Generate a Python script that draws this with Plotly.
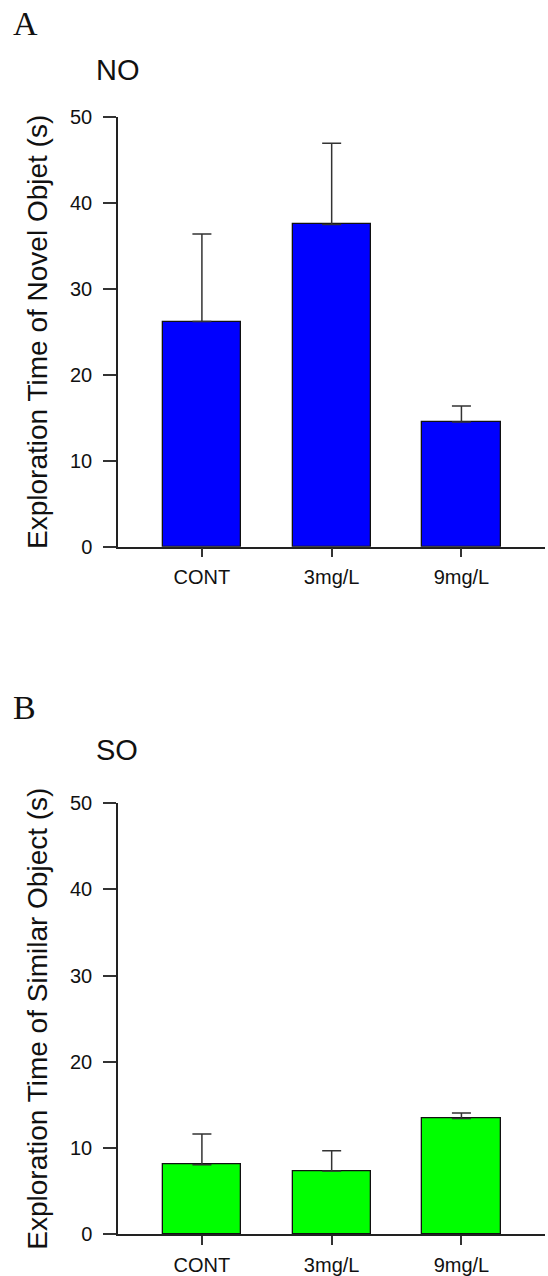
import plotly.graph_objects as go

categories = ["CONT", "3mg/L", "9mg/L"]
no_means = [26.2, 37.5, 14.5]
no_sem = [10.2, 9.45, 1.87]
so_means = [8.05, 7.3, 13.4]
so_sem = [3.55, 2.35, 0.65]
y_ticks = [0, 10, 20, 30, 40, 50]

W, H = 548, 1276
FONT = "Liberation Sans, Arial, sans-serif"
SERIF = "Liberation Serif, Times New Roman, serif"


def px_x(x):
    return x / W


def px_y(y):
    return 1 - y / H


fig = go.Figure()


def add_bars(means, sem, color, xa, ya):
    fig.add_trace(go.Bar(
        x=list(range(len(categories))), y=means,
        width=0.603,
        marker=dict(color=color, line=dict(color="#111111", width=1.3)),
        error_y=dict(type="data", symmetric=False, array=sem,
                     arrayminus=[0] * len(sem),
                     color="#333333", thickness=1.5, width=9.5),
        xaxis=xa, yaxis=ya, showlegend=False,
    ))


add_bars(no_means, no_sem, "#0000ff", "x", "y")
add_bars(so_means, so_sem, "#00ff00", "x2", "y2")

xdom = [px_x(118), px_x(545)]
ydomA = [px_y(546.7), px_y(117)]
ydomB = [px_y(1234), px_y(803.3)]

xaxis_common = dict(
    range=[-0.6466, 2.644], tickmode="array",
    tickvals=list(range(len(categories))), ticktext=categories,
    showline=True, linecolor="#222222", linewidth=1.5,
    ticks="outside", ticklen=9, tickwidth=1.5, tickcolor="#333333",
    tickfont=dict(family=FONT, size=20, color="#111111"),
    ticklabelstandoff=3, automargin=False,
    showgrid=False, zeroline=False, domain=xdom,
)
yaxis_common = dict(
    range=[0, 50], tickmode="array", tickvals=y_ticks,
    showline=True, linecolor="#222222", linewidth=1.5,
    ticks="outside", ticklen=13, tickwidth=1.5, tickcolor="#333333",
    tickfont=dict(family=FONT, size=20, color="#111111"),
    ticklabelstandoff=7, automargin=False,
    showgrid=False, zeroline=False,
)

fig.update_layout(
    width=W, height=H,
    margin=dict(l=0, r=0, t=0, b=0, autoexpand=False),
    paper_bgcolor="white", plot_bgcolor="white",
    bargap=0,
    xaxis=dict(**xaxis_common, anchor="y"),
    yaxis=dict(**yaxis_common, domain=ydomA, anchor="x",
               title=dict(text="Exploration Time of Novel Objet (s)",
                          font=dict(family=FONT, size=28, color="#111111"),
                          standoff=14)),
    xaxis2=dict(**xaxis_common, anchor="y2"),
    yaxis2=dict(**yaxis_common, domain=ydomB, anchor="x2",
                title=dict(text="Exploration Time of Similar Object (s)",
                           font=dict(family=FONT, size=28, color="#111111"),
                           standoff=14)),
)


def label(text, x, y, size, family):
    fig.add_annotation(text=text, x=px_x(x), y=px_y(y), xref="paper", yref="paper",
                       xanchor="left", yanchor="top", showarrow=False,
                       font=dict(family=family, size=size, color="#111111"))


label("A", 11, 3, 34, SERIF)
label("NO", 94, 52, 29, FONT)
label("B", 11, 687, 34, SERIF)
label("SO", 94, 732, 29, FONT)

fig.write_html("out.html", config={"displayModeBar": False},
               post_script="document.body.style.margin='0';")
